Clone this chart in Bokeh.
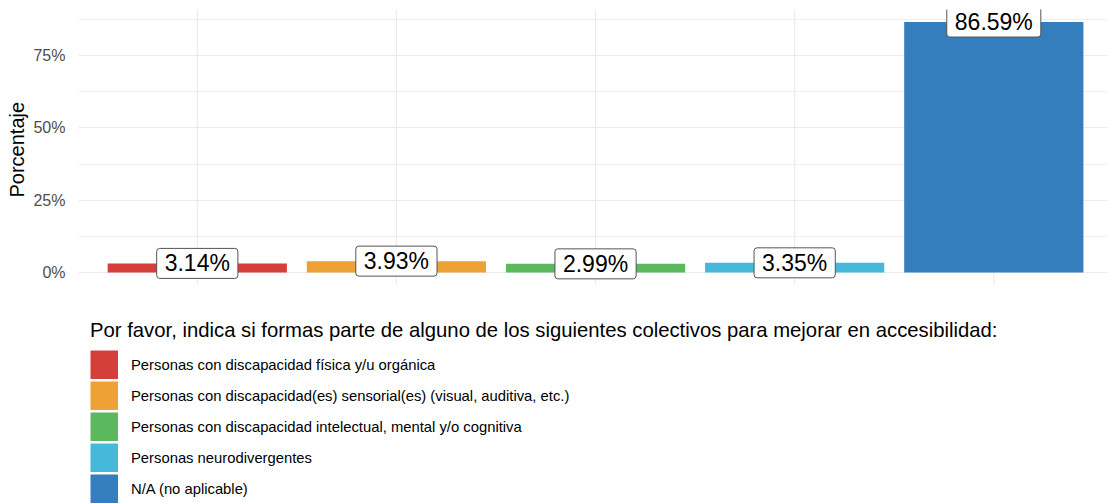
from bokeh.plotting import figure
from bokeh.models import (ColumnDataSource, Label, FixedTicker, Range1d, Title,
                          Legend, LegendItem)
from bokeh.embed import file_html
from bokeh.resources import INLINE

categories = [
    "Personas con discapacidad física y/u orgánica",
    "Personas con discapacidad(es) sensorial(es) (visual, auditiva, etc.)",
    "Personas con discapacidad intelectual, mental y/o cognitiva",
    "Personas neurodivergentes",
    "N/A (no aplicable)",
]
values = [3.14, 3.93, 2.99, 3.35, 86.59]
colors = ["#d43f3a", "#eea236", "#5cb85c", "#46b8da", "#357ebd"]
y_ticks = [0, 25, 50, 75]
y_minor = [12.5, 37.5, 62.5, 87.5]
y_tick_labels = ["0%", "25%", "50%", "75%"]
y_title = "Porcentaje"
legend_title = ("Por favor, indica si formas parte de alguno de los siguientes "
                "colectivos para mejorar en accesibilidad:")

FONT = "Liberation Sans"
Y_LO, Y_HI = -4.33, 90.92          # panel data limits (ggplot-style expansion)

xs = list(range(1, len(categories) + 1))
src = ColumnDataSource(dict(x=xs, top=values, cat=categories, color=colors))

# frame extends down to the bottom so the legend (placed below the panel) is not clipped
p = figure(width=1107, height=504, output_backend="svg", toolbar_location=None,
           x_range=Range1d(0.4035, 5.571), y_range=Range1d(-80.2, Y_HI),
           min_border_left=77, min_border_top=9, min_border_right=0,
           min_border_bottom=0)
p.outline_line_color = None
p.background_fill_color = "white"
p.border_fill_color = "white"

# vertical grid lines, limited to the panel
p.segment(x0=xs, x1=xs, y0=Y_LO, y1=Y_HI, line_color="#EBEBEB", line_width=1.2)

p.vbar(x="x", top="top", bottom=0, width=0.9, source=src, fill_color="color",
       line_color=None)

for x, v in zip(xs, values):
    p.add_layout(Label(x=x, y=v, text=f"{v:.2f}%",
                       text_align="center", text_baseline="middle",
                       text_font=FONT, text_font_size="23px", text_color="black",
                       background_fill_color="white", border_line_color="#555555",
                       border_line_width=1, border_radius=3,
                       padding=dict(left=8, right=8, top=2, bottom=2)))

# axes
p.xaxis.visible = False
p.xgrid.visible = False

p.yaxis.ticker = FixedTicker(ticks=y_ticks, minor_ticks=y_minor)
p.yaxis.major_label_overrides = {t: l for t, l in zip(y_ticks, y_tick_labels)}
p.yaxis.axis_line_color = None
p.yaxis.major_tick_line_color = None
p.yaxis.minor_tick_line_color = None
p.yaxis.major_tick_out = 0
p.yaxis.major_tick_in = 0
p.yaxis.major_label_standoff = 9
p.yaxis.major_label_text_font = FONT
p.yaxis.major_label_text_font_size = "16px"
p.yaxis.major_label_text_color = "#4D4D4D"
p.ygrid.grid_line_color = "#EBEBEB"
p.ygrid.grid_line_width = 1.2
p.ygrid.minor_grid_line_color = "#EBEBEB"
p.ygrid.minor_grid_line_width = 0.8

# y-axis title, centred on the bar panel
p.add_layout(Title(text=y_title, align="left", offset=307, standoff=6,
                   text_font=FONT, text_font_size="20px",
                   text_font_style="normal", text_color="black"), "left")

# legend keys: single-point line renderers (draw nothing in the panel) whose
# thick legend stroke gives full-size colour squares
items = []
for x, v, cat, col in zip(xs, values, categories, colors):
    r = p.line(x=[x], y=[v], line_color=col, line_width=29, line_cap="butt")
    items.append(LegendItem(label=cat, renderers=[r]))

lg = Legend(items=items, location=(12, 1))
lg.title = legend_title
lg.title_text_font = FONT
lg.title_text_font_size = "20.3px"
lg.title_text_font_style = "normal"
lg.title_text_color = "black"
lg.title_standoff = 8
lg.glyph_width = 28
lg.glyph_height = 29
lg.label_height = 20
lg.spacing = 2
lg.padding = 0
lg.margin = 0
lg.border_line_alpha = 0
lg.background_fill_alpha = 0
lg.label_standoff = 13
lg.label_text_font = FONT
lg.label_text_font_size = "14.8px"
lg.label_text_color = "black"
p.add_layout(lg, "center")

open("out.html", "w").write(file_html(p, INLINE))
